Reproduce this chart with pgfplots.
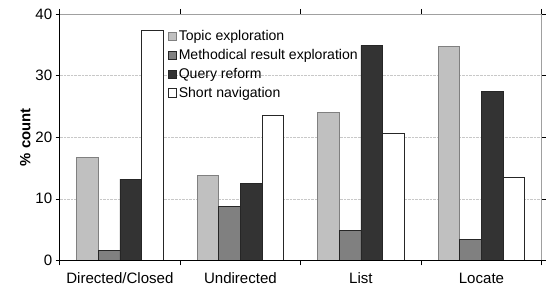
\documentclass[border=0pt]{standalone}
\usepackage{pgfplots}
\pgfplotsset{compat=1.18}
\usepackage{fontspec}
\setmainfont{Liberation Sans}
\definecolor{cTopic}{RGB}{192,192,192}
\definecolor{cTopicEdge}{RGB}{128,128,128}
\definecolor{cMeth}{RGB}{128,128,128}
\definecolor{cQuery}{RGB}{51,51,51}
\definecolor{cFrame}{RGB}{160,160,160}
\definecolor{cGrid}{RGB}{200,200,200}
\begin{document}
\begin{tikzpicture}
\begin{axis}[
  name=ax, at={(0,0)}, anchor=south west,
  scale only axis, width=485bp, height=248bp,
  xmin=-0.5, xmax=3.5, ymin=0, ymax=40,
  ybar=0pt, bar width=0.18,
  xtick={0,1,2,3},
  xticklabels={Directed/Closed,Undirected,List,Locate},
  minor xtick={-0.5,0.5,1.5,2.5,3.5},
  ytick={0,10,20,30,40},
  tick align=outside,
  major tick length=4bp, minor tick length=5bp,
  major x tick style={draw=none},
  minor x tick style={black, line width=0.6bp},
  y tick style={black, line width=0.6bp},
  ymajorgrids, major grid style={densely dotted, cGrid},
  axis line style={cFrame, line width=0.6bp},
  ticklabel style={font=\fontsize{15.2}{17}\selectfont},
  /pgf/number format/assume math mode=true,
  xticklabel style={yshift=-5bp},
  ylabel={\textbf{\% count}},
  ylabel style={font=\fontsize{15}{17}\selectfont, yshift=-2bp},
  legend style={at={(0.222,0.945)}, anchor=north west, draw=none, fill=none,
    font=\fontsize{14.2}{16}\selectfont, row sep=3.2bp, inner sep=1bp},
  legend cell align=left,
  legend image code/.code={\draw[#1, line width=0.6bp] (0bp,-4.2bp) rectangle (8.4bp,4.2bp);},
]
\addplot[fill=cTopic, draw=cTopicEdge, line width=0.8bp] coordinates {(0,16.7) (1,13.8) (2,24.0) (3,34.7)};
\addplot[fill=cMeth, draw=black!85, line width=0.8bp] coordinates {(0,1.6) (1,8.7) (2,4.8) (3,3.4)};
\addplot[fill=cQuery, draw=black!85, line width=0.8bp] coordinates {(0,13.2) (1,12.5) (2,34.9) (3,27.4)};
\addplot[fill=white, draw=black!85, line width=0.8bp] coordinates {(0,37.4) (1,23.6) (2,20.6) (3,13.4)};
\legend{Topic exploration, Methodical result exploration, Query reform, Short navigation}
\end{axis}
\draw[black, line width=0.6bp] (ax.north west) -- (ax.south west) -- (ax.south east);
\path (ax.south west) ++(-60bp,-35bp) coordinate (bl);
\path (ax.north east) ++(1bp,14bp) coordinate (tr);
\path (bl) rectangle (tr);
\end{tikzpicture}
\end{document}
